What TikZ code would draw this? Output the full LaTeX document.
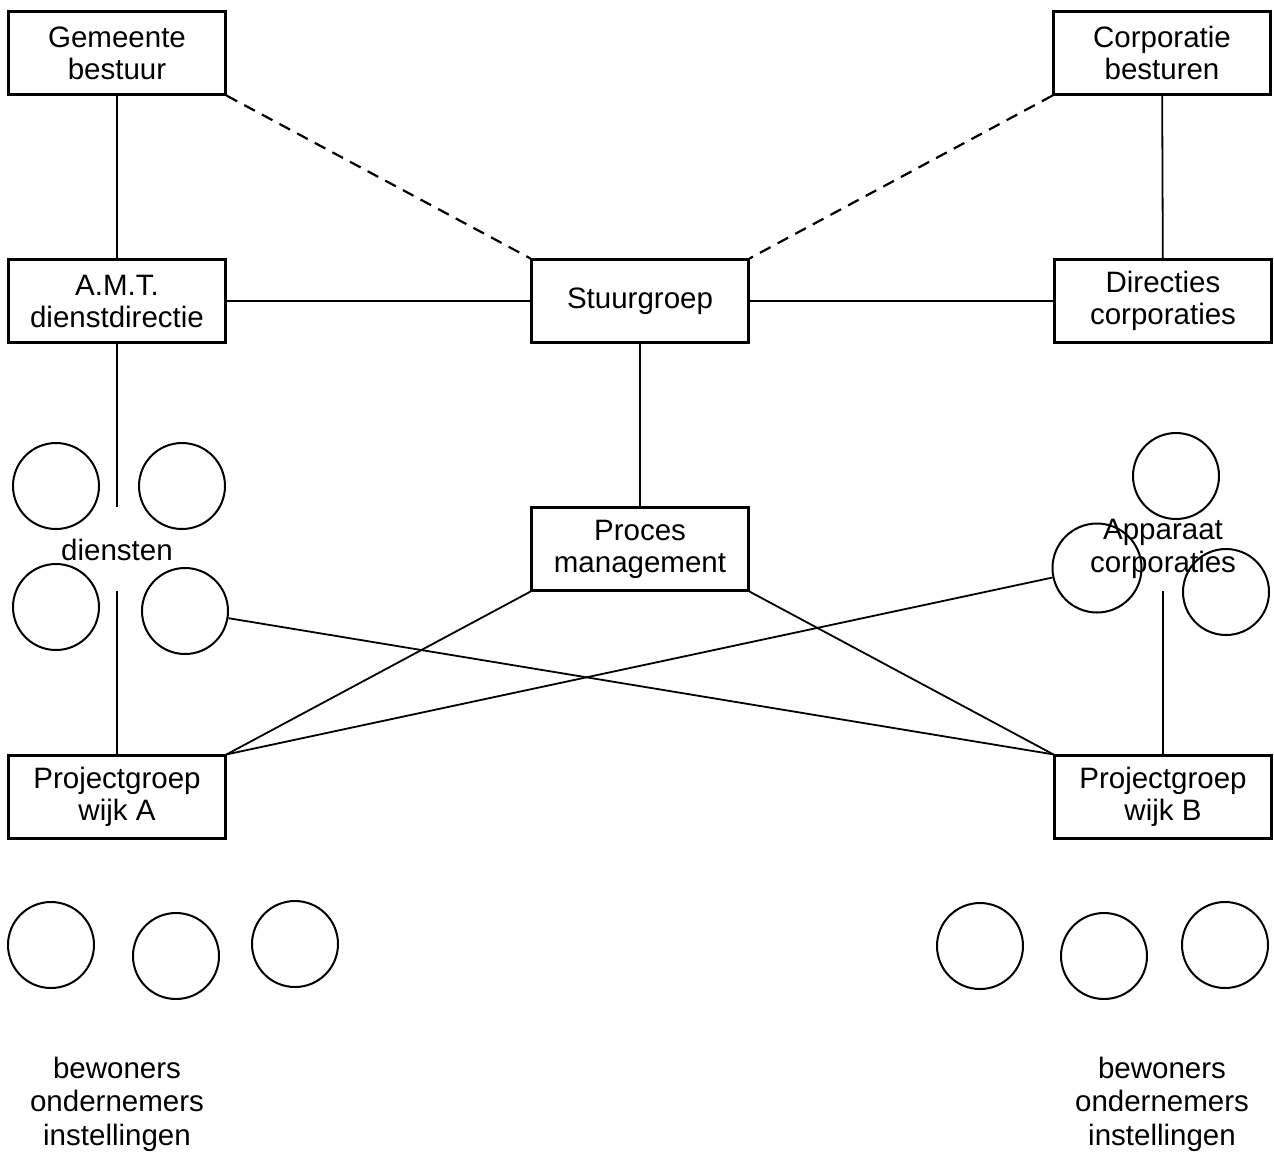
\documentclass[tikz,border=0pt]{standalone}
\usepackage{fontspec}
\setmainfont{Liberation Sans}
\begin{document}
\begin{tikzpicture}[x=1pt,y=-1pt,
  box/.style={draw,line width=2.2pt,minimum width=217pt,minimum height=83pt,align=center,inner sep=0pt,font=\fontsize{29.5}{32}\selectfont},
  lbl/.style={align=center,inner sep=0pt,font=\fontsize{29.5}{33.5}\selectfont},
  ring/.style={draw,circle,line width=2pt,minimum size=86pt,inner sep=0pt},
  conn/.style={line width=1.8pt},
  dashline/.style={line width=2.2pt,dash pattern=on 12pt off 8pt}]
\useasboundingbox (0,0) rectangle (1274,1152);
% boxes
\node[box] (gb) at (117,53) {Gemeente\\bestuur};
\node[box] (cb) at (1162,53) {Corporatie\\besturen};
\node[box] (amt) at (117,301) {A.M.T.\\dienstdirectie};
\node[box] (sg) at (640,301) {Stuurgroep};
\node[box] (dc) at (1163,301) {Directies\\corporaties};
\node[box] (pm) at (640,549) {Proces\\management};
\node[box] (pa) at (117,797) {Projectgroep\\wijk A};
\node[box] (pb) at (1163,797) {Projectgroep\\wijk B};
% diensten circles
\node[ring] (d1) at (56,486) {};
\node[ring] (d2) at (182,486) {};
\node[ring] (d3) at (56,607) {};
\node[ring] (d4) at (185,611) {};
\node[lbl] (dl) at (117,550) {diensten};
% apparaat circles
\node[ring] (a1) at (1176,476) {};
\node[ring,minimum size=89pt] (a2) at (1097,568) {};
\node[ring] (a3) at (1226,592) {};
\node[lbl] (al) at (1163,549) {Apparaat\\corporaties};
% bottom circles
\node[ring] (l1) at (51,945) {};
\node[ring] (l2) at (176,956) {};
\node[ring] (l3) at (295,944) {};
\node[ring] (r1) at (980,946) {};
\node[ring] (r2) at (1104,956) {};
\node[ring] (r3) at (1225,945) {};
\node[lbl] (bl) at (117,1104) {bewoners\\ondernemers\\instellingen};
\node[lbl] (br) at (1162,1104) {bewoners\\ondernemers\\instellingen};
% helper coordinates
\coordinate (dtop) at (117,507);
\coordinate (dbot) at (117,591);
\coordinate (atop) at (1163,591);
% connectors
\draw[conn] (gb) -- (amt);
\draw[conn] (cb) -- (dc);
\draw[dashline] (gb.south east) -- (sg.north west);
\draw[dashline] (cb.south west) -- (sg.north east);
\draw[conn] (amt) -- (sg);
\draw[conn] (sg) -- (dc);
\draw[conn] (sg) -- (pm);
\draw[conn] (amt) -- (dtop);
\draw[conn] (dbot) -- (pa);
\draw[conn] (atop) -- (pb);
\draw[conn] (pm.south west) -- (pa.north east);
\draw[conn] (pm.south east) -- (pb.north west);
\draw[conn] (d4) -- (pb.north west);
\draw[conn] (a2) -- (pa.north east);
\end{tikzpicture}
\end{document}
